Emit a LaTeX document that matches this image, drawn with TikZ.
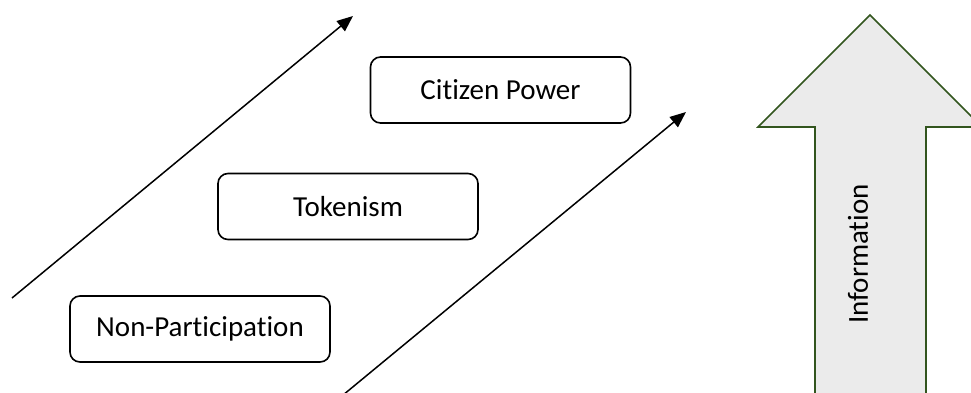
\documentclass[tikz,border=0pt]{standalone}
\usepackage{fontspec}
\setmainfont[Ligatures=NoCommon]{Carlito}
\usepackage{tikz}
\usetikzlibrary{arrows.meta}
\definecolor{ladderline} {RGB} {50, 85, 30}
\definecolor{laddergray} {RGB} {235, 235, 235}
\tikzstyle{ladder}=[
  x=1pt, y=-1pt, font=\fontsize{29}{35}\selectfont
]
\tikzstyle{rung}=[
  draw, line width=1.6pt, rounded corners=10pt, inner sep=0pt,
  minimum width=260pt, minimum height=66pt
]
\tikzstyle{rise}=[
  line width=1.5pt, -{Triangle[length=16pt,width=13pt]}
]
\tikzstyle{infoarrow}=[
  draw=ladderline, fill=laddergray, line width=1.6pt
]

\begin{document}
\begin{tikzpicture}[ladder]
    \useasboundingbox (0,0) rectangle (971,392);
    \clip (0,0) rectangle (971,392);
    \node (nonpart) [rung] at (200, 329) {Non-Participation};
    \node (token) [rung] at (348, 206.5) {Tokenism};
    \node (citizen) [rung] at (500.5, 90) {Citizen Power};
    \coordinate (left start) at (12, 298);
    \coordinate (left end) at (353, 16);
    \coordinate (right start) at (337, 400);
    \coordinate (right end) at (686, 112);
    \draw [rise] (left start) -- (left end);
    \draw [rise] (right start) -- (right end);
    % information arrow
    \draw [infoarrow] (815, 420) -- (815, 127) -- (758, 127) -- (870, 15)
        -- (982, 127) -- (926, 127) -- (926, 420) -- cycle;
    \node (info) [rotate=90] at (858, 254) {Information};
\end{tikzpicture}
\end{document}
